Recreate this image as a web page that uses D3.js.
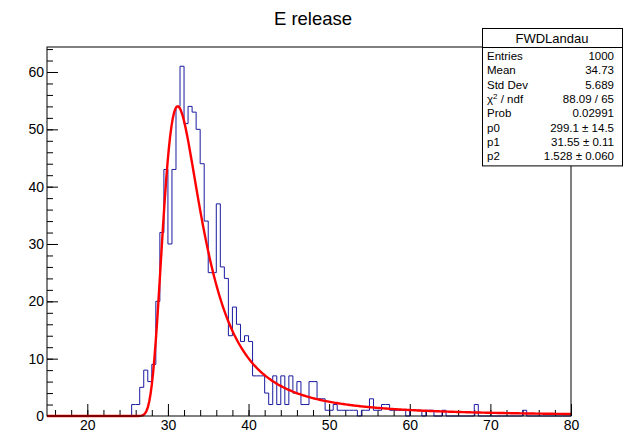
<!DOCTYPE html>
<html>
<head>
<meta charset="utf-8">
<script src="https://cdn.jsdelivr.net/npm/d3@7"></script>
<style>
  body { margin: 0; background: #fff; }
  text { font-family: "Liberation Sans", Arial, Helvetica, sans-serif; }
</style>
</head>
<body>
<script>
var xRange = [15, 80];
var binWidth = 0.5;
var firstBin = 25.5;
var counts = [2, 2, 5, 8, 6, 9, 20, 32, 43, 30,
              43, 54, 61, 51, 54, 53, 50, 44, 34, 25,
              25, 37, 26, 24, 14, 19, 16, 13, 14, 13,
              7, 7, 7, 4, 2, 7, 2, 7, 2, 7,
              4, 6, 2, 2, 6, 6, 3, 3, 1, 1,
              2, 1, 1, 1, 1, 1, 0, 1, 1, 3,
              1, 1, 2, 2, 1, 1, 1, 1, 0, 1,
              1, 1, 0, 1, 1, 0, 0, 1, 0, 0,
              0, 0, 0, 0, 0, 2, 0, 0, 0, 0,
              0, 0, 0, 0, 0, 0, 0, 1];

// fit result (landau)
var fitPars = [299.1, 31.55, 1.528];

// stats box
var statsTitle = "FWDLandau";
var statsNames = ["Entries", "Mean", "Std Dev", "χ2 / ndf", "Prob", "p0", "p1", "p2"];
var statsValues = ["1000", "34.73", "5.689", "88.09 / 65", "0.02991",
                   "299.1 ± 14.5", "31.55 ± 0.11", "1.528 ± 0.060"];

var xMajor = [20, 30, 40, 50, 60, 70, 80];
var yMajor = [0, 10, 20, 30, 40, 50, 60];

var margin = {top: 47, right: 55, bottom: 18, left: 47},
    width = 626 - margin.left - margin.right,
    height = 434 - margin.top - margin.bottom;

var x = d3.scaleLinear().domain(xRange).range([0, width]);
var y = d3.scaleLinear().domain([0, 64.36]).range([height, 0]);

var svg = d3.select("body").append("svg")
    .attr("width", 626)
    .attr("height", 434);

svg.append("text")
    .attr("x", 313)
    .attr("y", 25)
    .style("text-anchor", "middle")
    .style("font-size", "18.5px")
    .text("E release");

var g = svg.append("g")
    .attr("transform", "translate(" + margin.left + "," + margin.top + ")");

// ROOT landau (CERNLIB DENLAN)
function denlan(v) {
  var p1 = [0.4259894875, -0.1249762550, 0.03984243700, -0.006298287635, 0.001511162253],
      q1 = [1.0, -0.3388260629, 0.09594393323, -0.01608042283, 0.003778942063],
      p2 = [0.1788541609, 0.1173957403, 0.01488850518, -0.001394989411, 0.0001283617211],
      q2 = [1.0, 0.7428795082, 0.3153932961, 0.06694219548, 0.008790609714],
      p3 = [0.1788544503, 0.09359161662, 0.006325387654, 0.00006611667319, -0.000002031049101],
      q3 = [1.0, 0.6097809921, 0.2560616665, 0.04746722384, 0.006957301675],
      p4 = [0.9874054407, 118.6723273, 849.2794360, -743.7792444, 427.0262186],
      q4 = [1.0, 106.8615961, 337.6496214, 2016.712389, 1597.063511],
      p5 = [1.003675074, 167.5702434, 4789.711289, 21217.86767, -22324.94910],
      q5 = [1.0, 156.9424537, 3745.310488, 9834.698876, 66924.28357],
      p6 = [1.000827619, 664.9143136, 62972.92665, 475554.6998, -5743609.109],
      q6 = [1.0, 651.4101098, 56974.73333, 165917.4725, -2815759.939],
      a1 = [0.04166666667, -0.01996527778, 0.02709538966],
      a2 = [-1.845568670, -4.284640743];
  function poly(c, t) { return c[0] + (c[1] + (c[2] + (c[3] + c[4] * t) * t) * t) * t; }
  var u;
  if (v < -5.5) {
    u = Math.exp(v + 1.0);
    if (u < 1e-10) return 0;
    return 0.3989422803 * (Math.exp(-1 / u) / Math.sqrt(u)) * (1 + (a1[0] + (a1[1] + a1[2] * u) * u) * u);
  } else if (v < -1) {
    u = Math.exp(-v - 1);
    return Math.exp(-u) * Math.sqrt(u) * poly(p1, v) / poly(q1, v);
  } else if (v < 1) {
    return poly(p2, v) / poly(q2, v);
  } else if (v < 5) {
    return poly(p3, v) / poly(q3, v);
  } else if (v < 12) {
    u = 1 / v; return u * u * poly(p4, u) / poly(q4, u);
  } else if (v < 50) {
    u = 1 / v; return u * u * poly(p5, u) / poly(q5, u);
  } else if (v < 300) {
    u = 1 / v; return u * u * poly(p6, u) / poly(q6, u);
  }
  u = 1 / (v - v * Math.log(v) / (v + 1));
  return u * u * (1 + (a2[0] + a2[1] * u) * u);
}

// bins over the whole axis
var nBins = Math.round((xRange[1] - xRange[0]) / binWidth);
var offset = Math.round((firstBin - xRange[0]) / binWidth);
var bins = d3.range(nBins).map(function(i) {
  var c = counts[i - offset];
  return {x0: xRange[0] + i * binWidth, n: c === undefined ? 0 : c};
});
var pts = bins.map(function(d) { return [d.x0, d.n]; });
pts.push([xRange[1], bins[nBins - 1].n]);

// axes: minor every 2, major every 10, ticks inside the frame
g.append("g")
    .attr("transform", "translate(0," + height + ")")
    .call(d3.axisBottom(x).tickValues(d3.range(16, 81, 2)).tickSize(-6).tickFormat(""))
    .call(function(s) { s.select(".domain").remove(); });
g.append("g")
    .attr("class", "x axis")
    .attr("transform", "translate(0," + height + ")")
    .call(d3.axisBottom(x).tickValues(xMajor).tickSize(-12).tickPadding(4))
    .call(function(s) { s.select(".domain").remove(); });

g.append("g")
    .call(d3.axisLeft(y).tickValues(d3.range(0, 65, 2)).tickSize(-6).tickFormat(""))
    .call(function(s) { s.select(".domain").remove(); });
g.append("g")
    .attr("class", "y axis")
    .call(d3.axisLeft(y).tickValues(yMajor).tickSize(-11).tickPadding(3))
    .call(function(s) { s.select(".domain").remove(); });

g.selectAll(".axis text").style("font-size", "14px").style("fill", "#000");
g.selectAll(".tick line").style("stroke", "#000");

// histogram outline
g.append("path")
    .datum(pts)
    .attr("fill", "none")
    .attr("stroke", "#1a1aa0")
    .attr("stroke-width", 1)
    .attr("d", d3.line()
        .x(function(d) { return x(d[0]); })
        .y(function(d) { return y(d[1]); })
        .curve(d3.curveStepAfter));

// fit curve
var fx = d3.range(0, 401).map(function(i) { return xRange[0] + i * (xRange[1] - xRange[0]) / 400; });
g.append("path")
    .datum(fx)
    .attr("fill", "none")
    .attr("stroke", "#ff0000")
    .attr("stroke-width", 2.4)
    .attr("d", d3.line()
        .x(function(d) { return x(d); })
        .y(function(d) { return y(fitPars[0] * denlan((d - fitPars[1]) / fitPars[2])); }));

// frame
g.append("rect")
    .attr("width", width)
    .attr("height", height)
    .attr("fill", "none")
    .attr("stroke", "#000")
    .attr("stroke-width", 1);

// stats box
var sb = {x0: 482, x1: 622, y0: 28, head: 19, row: 14.3};
var stats = svg.append("g");
var boxH = sb.head + statsNames.length * sb.row + 4;
stats.append("rect")
    .attr("x", sb.x0 + 0.5).attr("y", sb.y0 + 0.5)
    .attr("width", sb.x1 - sb.x0).attr("height", boxH)
    .attr("fill", "#fff").attr("stroke", "#000");
stats.append("line")
    .attr("x1", sb.x0).attr("x2", sb.x1)
    .attr("y1", sb.y0 + sb.head + 0.5).attr("y2", sb.y0 + sb.head + 0.5)
    .attr("stroke", "#000");
stats.append("text")
    .attr("x", (sb.x0 + sb.x1) / 2).attr("y", sb.y0 + 15)
    .style("text-anchor", "middle").style("font-size", "13px")
    .text(statsTitle);

var rows = stats.selectAll(".row")
    .data(statsNames)
  .enter().append("g")
    .attr("class", "row")
    .attr("transform", function(d, i) { return "translate(0," + (sb.y0 + sb.head + 13 + i * sb.row) + ")"; });

rows.append("text")
    .attr("x", sb.x0 + 5)
    .style("font-size", "11.5px")
    .each(function(d) {
      var t = d3.select(this);
      if (d.indexOf("χ2") === 0) {
        t.append("tspan").text("χ");
        t.append("tspan").attr("dy", -4).style("font-size", "8px").text("2");
        t.append("tspan").attr("dy", 4).text(" / ndf");
      } else {
        t.text(d);
      }
    });

rows.append("text")
    .attr("x", sb.x1 - 8)
    .style("text-anchor", "end")
    .style("font-size", "11.5px")
    .text(function(d, i) { return statsValues[i]; });
</script>
</body>
</html>
